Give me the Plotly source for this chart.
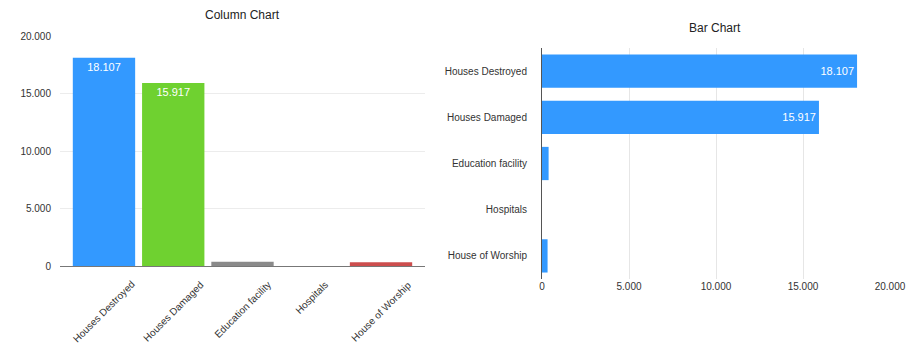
import plotly.graph_objects as go

categories = ["Houses Destroyed", "Houses Damaged", "Education facility", "Hospitals", "House of Worship"]
values = [18107, 15917, 380, 0, 320]
column_colors = ["#3399ff", "#6fd130", "#8a8a8a", "#9a9a9a", "#cc4d4d"]
bar_color = "#3399ff"
tick_vals = [0, 5000, 10000, 15000, 20000]

font_family = "Liberation Sans, Arial, sans-serif"

fig = go.Figure()

fig.add_trace(go.Bar(
    x=categories, y=values, marker=dict(color=column_colors, line=dict(width=0)),
    width=0.9, text=values, texttemplate="%{y:,}", textposition="inside",
    insidetextanchor="end", textfont=dict(color="white", size=11, family=font_family),
    xaxis="x", yaxis="y", showlegend=False,
))

fig.add_trace(go.Bar(
    y=categories, x=values, orientation="h", marker=dict(color=bar_color, line=dict(width=0)),
    width=0.72, text=values, texttemplate="%{x:,}", textposition="inside",
    insidetextanchor="end", textfont=dict(color="white", size=11, family=font_family),
    xaxis="x2", yaxis="y2", showlegend=False,
))

# rotated, centred category labels for the column chart
label_annotations = [
    dict(text=c, x=c, xref="x", y=1 - 276/353, yref="paper", textangle=-45,
         xanchor="center", yanchor="top", showarrow=False,
         font=dict(size=10, color="#333333", family=font_family))
    for c in categories
]

fig.update_layout(
    width=906, height=353,
    margin=dict(l=0, r=0, t=0, b=0, autoexpand=False),
    paper_bgcolor="white", plot_bgcolor="white",
    separators=",.",
    font=dict(family=font_family, size=10, color="#333333"),
    uniformtext=dict(minsize=10, mode="hide"),
    xaxis=dict(domain=[60/906, 425/906], anchor="y", type="category", automargin=False,
               range=[-0.635, 4.635], showticklabels=False, showgrid=False,
               showline=True, linecolor="#777777", linewidth=1, ticks=""),
    yaxis=dict(domain=[(353-266)/353, (353-36)/353], anchor="x", range=[0, 20000],
               automargin=False, ticklabelstandoff=8,
               tickvals=tick_vals, tickformat=",", showgrid=True, gridcolor="#ececec",
               zeroline=False, showline=False, ticks="", ticklen=0,
               tickfont=dict(size=10, color="#333333")),
    xaxis2=dict(domain=[542/906, 890/906], anchor="y2", range=[0, 20000], automargin=False,
                tickvals=tick_vals, tickformat=",", showgrid=True, gridcolor="#e6e6e6",
                zeroline=False, showline=False, ticks="",
                tickfont=dict(size=10, color="#333333")),
    yaxis2=dict(domain=[(353-279)/353, (353-48)/353], anchor="x2", type="category",
                automargin=False,
                autorange="reversed", showgrid=False, showline=True, linecolor="#555555",
                linewidth=1, ticks="", ticklabelstandoff=12,
                tickfont=dict(size=10, color="#333333")),
    annotations=[
        dict(text="Column Chart", x=243/906, y=1-15/353, xref="paper", yref="paper",
             showarrow=False, font=dict(size=12, color="#222222", family=font_family),
             xanchor="center", yanchor="middle"),
        dict(text="Bar Chart", x=715/906, y=1-28/353, xref="paper", yref="paper",
             showarrow=False, font=dict(size=12, color="#222222", family=font_family),
             xanchor="center", yanchor="middle"),
    ] + label_annotations,
)

fig.write_html("out.html")
